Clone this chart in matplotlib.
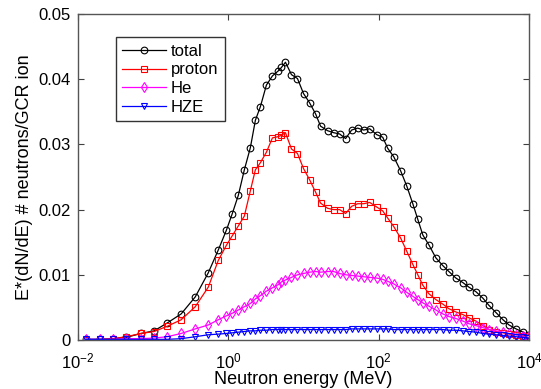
import numpy as np
import matplotlib
matplotlib.use("Agg")
import matplotlib.pyplot as plt
from matplotlib.ticker import FixedLocator, FixedFormatter, NullLocator

plt.rcParams['font.family'] = ['Liberation Sans', 'DejaVu Sans']
plt.rcParams['mathtext.fontset'] = 'custom'
plt.rcParams['mathtext.rm'] = 'Liberation Sans'
plt.rcParams['mathtext.default'] = 'regular'

# neutron energy grid (MeV), shared by all four curves
energy = [0.0128, 0.0196, 0.0293, 0.0437, 0.0692, 0.1031, 0.1537, 0.2362, 0.3631, 0.5412,
          0.7356, 0.9404, 1.131, 1.360, 1.634, 1.965, 2.291, 2.672, 3.212, 3.861,
          4.642, 5.088, 5.754, 6.918, 8.318, 10.0, 12.02, 14.45, 16.86, 20.89,
          25.12, 30.20, 36.31, 43.65, 52.48, 63.10, 75.86, 94.04, 113.1, 131.8,
          158.5, 196.5, 236.3, 284.1, 331.1, 386.2, 464.2, 575.4, 713.5, 857.7,
          1063, 1318, 1585, 1965, 2436, 2929, 3631, 4501, 5412, 6709,
          8318, 9698]

total = [0.0001, 0.0001, 0.0002, 0.0004, 0.0010, 0.0014, 0.0026, 0.0040, 0.0066, 0.0103,
         0.0138, 0.0168, 0.0194, 0.0222, 0.0261, 0.0295, 0.0337, 0.0358, 0.0391, 0.0405,
         0.0413, 0.0418, 0.0426, 0.0407, 0.0401, 0.0378, 0.0364, 0.0347, 0.0328, 0.0321,
         0.0318, 0.0316, 0.0309, 0.0322, 0.0325, 0.0322, 0.0324, 0.0315, 0.0311, 0.0294,
         0.0281, 0.0259, 0.0236, 0.0209, 0.0185, 0.0161, 0.0146, 0.0126, 0.0114, 0.0105,
         0.0095, 0.0088, 0.0081, 0.0074, 0.0064, 0.0053, 0.0042, 0.0031, 0.0023, 0.0017,
         0.0012, 0.0008]

proton = [0.0000, 0.0001, 0.0002, 0.0005, 0.0010, 0.0013, 0.0021, 0.0031, 0.0051, 0.0081,
          0.0122, 0.0145, 0.0160, 0.0175, 0.0190, 0.0229, 0.0261, 0.0272, 0.0288, 0.0310,
          0.0312, 0.0314, 0.0318, 0.0293, 0.0286, 0.0263, 0.0246, 0.0227, 0.0210, 0.0202,
          0.0200, 0.0200, 0.0194, 0.0205, 0.0209, 0.0209, 0.0211, 0.0204, 0.0198, 0.0187,
          0.0174, 0.0156, 0.0136, 0.0116, 0.0100, 0.0084, 0.0071, 0.0062, 0.0055, 0.0048,
          0.0043, 0.0039, 0.0034, 0.0029, 0.0022, 0.0016, 0.0013, 0.0011, 0.0009, 0.0008,
          0.0006, 0.0004]

helium = [0.0001, 0.0001, 0.0001, 0.0002, 0.0002, 0.0003, 0.0005, 0.0010, 0.0017, 0.0023,
          0.0031, 0.0037, 0.0041, 0.0046, 0.0051, 0.0056, 0.0063, 0.0068, 0.0075, 0.0080,
          0.0085, 0.0089, 0.0092, 0.0096, 0.0100, 0.0102, 0.0104, 0.0105, 0.0104, 0.0105,
          0.0105, 0.0102, 0.0100, 0.0099, 0.0098, 0.0097, 0.0096, 0.0095, 0.0093, 0.0090,
          0.0086, 0.0080, 0.0073, 0.0067, 0.0062, 0.0057, 0.0052, 0.0046, 0.0040, 0.0036,
          0.0033, 0.0029, 0.0025, 0.0022, 0.0019, 0.0016, 0.0014, 0.0012, 0.0010, 0.0008,
          0.0006, 0.0004]

hze = [0.0001, 0.0001, 0.0001, 0.0001, 0.0001, 0.0001, 0.0001, 0.0002, 0.0005, 0.0008,
       0.0009, 0.0010, 0.0011, 0.0012, 0.0013, 0.0014, 0.0014, 0.0015, 0.0015, 0.0016,
       0.0016, 0.0016, 0.0016, 0.0016, 0.0016, 0.0016, 0.0016, 0.0016, 0.0016, 0.0016,
       0.0016, 0.0016, 0.0016, 0.0017, 0.0017, 0.0017, 0.0017, 0.0017, 0.0017, 0.0017,
       0.0016, 0.0016, 0.0016, 0.0016, 0.0016, 0.0016, 0.0016, 0.0016, 0.0016, 0.0015,
       0.0015, 0.0014, 0.0013, 0.0012, 0.0010, 0.0009, 0.0008, 0.0007, 0.0006, 0.0005,
       0.0004, 0.0003]

series = [("total", total, "k", "o"),
          ("proton", proton, "#ff0000", "s"),
          ("He", helium, "#ff00ff", "d"),
          ("HZE", hze, "#0000ff", "v")]

xticks = [1e-2, 1e0, 1e2, 1e4]
xticklabels = [r"$10^{-2}$", r"$10^{0}$", r"$10^{2}$", r"$10^{4}$"]
yticks = [0, 0.01, 0.02, 0.03, 0.04, 0.05]
yticklabels = ["0", "0.01", "0.02", "0.03", "0.04", "0.05"]

fig = plt.figure(figsize=(5.41, 3.89), dpi=100)
ax = fig.add_axes([0.144, 0.126, 0.834, 0.838])

for name, vals, col, mk in series:
    ax.plot(energy, vals, color=col, marker=mk, markersize=4.8, markerfacecolor="none",
            markeredgewidth=0.8, linewidth=0.9, label=name)

ax.set_xscale("log")
ax.set_xlim(1e-2, 1e4)
ax.set_ylim(0, 0.05)
ax.xaxis.set_major_locator(FixedLocator(xticks))
ax.xaxis.set_major_formatter(FixedFormatter(xticklabels))
ax.xaxis.set_minor_locator(NullLocator())
ax.set_yticks(yticks)
ax.set_yticklabels(yticklabels)
ax.tick_params(direction="in", length=4, width=0.8, top=True, right=True,
               labelsize=12, colors="#404040", labelcolor="black")
ax.tick_params(axis="y", pad=5)
ax.tick_params(axis="x", pad=8)
for s in ax.spines.values():
    s.set_color("#555555")
    s.set_linewidth(1.0)

ax.set_xlabel("Neutron energy (MeV)", fontsize=13, labelpad=0)
ax.set_ylabel("E*(dN/dE) # neutrons/GCR ion", fontsize=13, labelpad=4)

leg = ax.legend(loc="upper left", bbox_to_anchor=(0.084, 0.929), borderaxespad=0,
                fontsize=12, fancybox=False, framealpha=1, edgecolor="#333333",
                handlelength=2.6, handletextpad=0.3, labelspacing=0.22, borderpad=0.4)
leg.get_frame().set_linewidth(1.0)

fig.savefig("out.png", dpi=100)
